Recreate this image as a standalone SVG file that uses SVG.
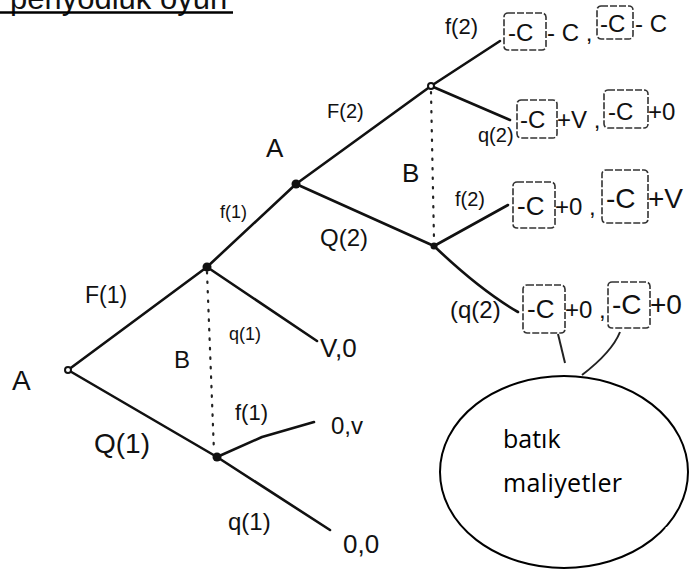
<svg xmlns="http://www.w3.org/2000/svg" width="689" height="569" viewBox="0 0 689 569">
<style>
.e{fill:none;stroke:#111;stroke-width:2.6;stroke-linecap:round;stroke-linejoin:round}
.d{fill:none;stroke:#222;stroke-width:2.2;stroke-linecap:round;stroke-dasharray:1.5 8}
.t{font-family:"Liberation Sans",Arial,sans-serif;fill:#111}
.bx{fill:none;stroke:#333;stroke-width:1.6;stroke-dasharray:7 2;}
.lk{fill:none;stroke:#222;stroke-width:2}
</style>
<rect width="689" height="569" fill="#fff"/>
<g id="title">
<text class="t" x="10" y="9" font-size="31">periyodluk oyun</text>
<line x1="0" y1="12.5" x2="233" y2="12.5" stroke="#000" stroke-width="2.6"/>
</g>
<g id="connectors">
<path class="e" d="M68,370 L207,267"/>
<path class="e" d="M68,370 L217,457"/>
<path class="e" d="M207,267 L317,341"/>
<path class="e" d="M207,267 L296,184"/>
<path class="e" d="M217,457 L262,437 L314,422"/>
<path class="e" d="M217,457 L330,530"/>
<path class="e" d="M296,184 Q370,130 431,86"/>
<path class="e" d="M296,184 Q380,222 434,246"/>
<path class="e" d="M431,86 L500,41"/>
<path class="e" d="M431,86 L510,120"/>
<path class="e" d="M434,246 L508,205"/>
<path class="e" d="M434,246 Q480,290 518,312"/>
<path class="d" d="M207,272 L214,452"/>
<path class="d" d="M431,92 L434,240"/>
<path class="lk" d="M558,334 L565,363"/>
<path class="lk" d="M620,332 Q612,352 582,375"/>
</g>
<g id="nodes">
<circle cx="68" cy="370" r="3" fill="#fff" stroke="#111" stroke-width="2"/>
<circle cx="207" cy="267" r="4.5" fill="#111"/>
<circle cx="217" cy="457" r="4.5" fill="#111"/>
<circle cx="296" cy="184" r="4.5" fill="#111"/>
<circle cx="431" cy="86" r="3" fill="#fff" stroke="#111" stroke-width="2"/>
<circle cx="434" cy="246" r="3.5" fill="#111"/>
</g>
<g id="labels">
<text class="t" x="12" y="390" font-size="28">A</text>
<text class="t" x="85" y="303" font-size="23">F(1)</text>
<text class="t" x="229" y="340" font-size="18">q(1)</text>
<text class="t" x="174" y="368" font-size="24">B</text>
<text class="t" x="320" y="357" font-size="26">V,0</text>
<text class="t" x="94" y="453" font-size="28">Q(1)</text>
<text class="t" x="235" y="420" font-size="22">f(1)</text>
<text class="t" x="331" y="434" font-size="24">0,v</text>
<text class="t" x="228" y="530" font-size="24">q(1)</text>
<text class="t" x="343" y="553" font-size="26">0,0</text>
<text class="t" x="220" y="218" font-size="18">f(1)</text>
<text class="t" x="266" y="157" font-size="26">A</text>
<text class="t" x="327" y="118" font-size="20">F(2)</text>
<text class="t" x="402" y="182" font-size="26">B</text>
<text class="t" x="320" y="246" font-size="24">Q(2)</text>
</g>
<g id="payoff1">
<text class="t" x="445" y="34" font-size="22">f(2)</text>
<rect class="bx" x="504" y="13" width="42" height="37" rx="4"/>
<text class="t" x="508" y="41" font-size="24">-C</text>
<text class="t" x="547" y="41" font-size="24">- C ,</text>
<rect class="bx" x="597" y="6" width="36" height="33" rx="4"/>
<text class="t" x="600" y="32" font-size="24">-C</text>
<text class="t" x="635" y="32" font-size="24">- C</text>
</g>
<g id="payoff2">
<text class="t" x="478" y="142" font-size="20">q(2)</text>
<rect class="bx" x="517" y="100" width="40" height="38" rx="4"/>
<text class="t" x="520" y="128" font-size="24">-C</text>
<text class="t" x="557" y="128" font-size="24">+V ,</text>
<rect class="bx" x="604" y="90" width="44" height="38" rx="4"/>
<text class="t" x="608" y="120" font-size="24">-C</text>
<text class="t" x="648" y="120" font-size="24">+0</text>
</g>
<g id="payoff3">
<text class="t" x="455" y="206" font-size="20">f(2)</text>
<rect class="bx" x="513" y="182" width="42" height="46" rx="4"/>
<text class="t" x="517" y="215" font-size="26">-C</text>
<text class="t" x="555" y="215" font-size="24">+0 ,</text>
<rect class="bx" x="602" y="170" width="46" height="53" rx="4"/>
<text class="t" x="606" y="208" font-size="28">-C</text>
<text class="t" x="648" y="208" font-size="28">+V</text>
</g>
<g id="payoff4">
<text class="t" x="450" y="318" font-size="24">(q(2)</text>
<rect class="bx" x="523" y="285" width="42" height="48" rx="4"/>
<text class="t" x="527" y="318" font-size="26">-C</text>
<text class="t" x="565" y="318" font-size="24">+0 ,</text>
<rect class="bx" x="608" y="282" width="42" height="46" rx="4"/>
<text class="t" x="612" y="314" font-size="28">-C</text>
<text class="t" x="650" y="314" font-size="28">+0</text>
</g>
<g id="batik">
<ellipse cx="564" cy="472" rx="124" ry="96" fill="#fff" stroke="#000" stroke-width="2"/>
<line x1="667" y1="406" x2="667" y2="415" stroke="#fff" stroke-width="2.5"/>
<line x1="667" y1="527" x2="667" y2="536" stroke="#fff" stroke-width="2.5"/>
<text x="503" y="448" font-family="'Open Sans','Noto Sans',sans-serif" font-size="25" fill="#000">batık</text>
<text x="503" y="492" font-family="'Open Sans','Noto Sans',sans-serif" font-size="25" fill="#000" textLength="119">maliyetler</text>
</g>
</svg>
